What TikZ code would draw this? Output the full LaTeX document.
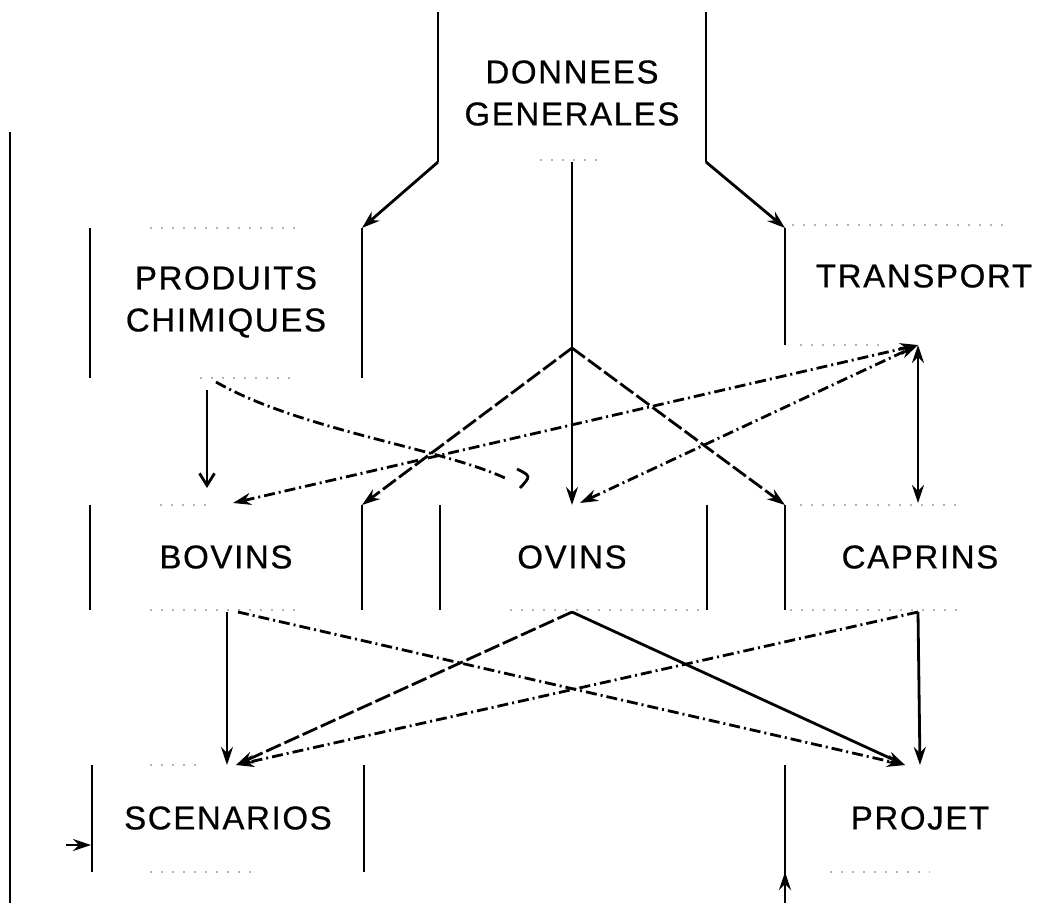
\documentclass[tikz,border=0pt]{standalone}
\usepackage{fontspec}
\setmainfont[LetterSpace=5,FakeBold=0.6]{Liberation Sans}
\usetikzlibrary{arrows.meta}
\begin{document}
\begin{tikzpicture}[x=1pt,y=-1pt,
  side/.style={line width=2.8pt},
  faint/.style={black!30,line width=1.4pt,dash pattern=on 2pt off 9pt},
  conn/.style={line width=2.8pt,-{Stealth[length=18pt,width=12pt]}},
  biconn/.style={line width=2.8pt,{Stealth[length=18pt,width=12pt]}-{Stealth[length=18pt,width=12pt]}},
  dashdot/.style={dash pattern=on 11pt off 4pt on 2pt off 4pt},
  longdash/.style={dash pattern=on 16pt off 4pt},
  lbl/.style={font=\fontsize{33}{42}\selectfont, align=center, inner sep=0pt}]
\useasboundingbox (0,0) rectangle (1049,903);

% ---------- labels ----------
\node[lbl] (dg) at (572,93) {DONNEES\\GENERALES};
\node[lbl] (pc) at (226,302) {PRODUITS\\CHIMIQUES};
\node[lbl] (tr) at (924,276) {TRANSPORT};
\node[lbl] (bo) at (226,557) {BOVINS};
\node[lbl] (ov) at (572,557) {OVINS};
\node[lbl] (ca) at (920,557) {CAPRINS};
\node[lbl] (sc) at (228,818) {SCENARIOS};
\node[lbl] (pr) at (920,818) {PROJET};

% ---------- box corners ----------
\coordinate (dgtl) at (438,12);  \coordinate (dgbl) at (438,162);
\coordinate (dgtr) at (706,12);  \coordinate (dgbr) at (706,162);
\coordinate (dgb)  at (572,162);
\coordinate (pctl) at (90,228);  \coordinate (pcbl) at (90,378);
\coordinate (pctr) at (362,228); \coordinate (pcbr) at (362,378);
\coordinate (trtl) at (785,228); \coordinate (trbl) at (785,345);
\coordinate (botl) at (90,505);  \coordinate (bobl) at (90,610);
\coordinate (botr) at (362,505); \coordinate (bobr) at (362,610);
\coordinate (ovtl) at (440,505); \coordinate (ovbl) at (440,610);
\coordinate (ovtr) at (707,505); \coordinate (ovbr) at (707,610);
\coordinate (catl) at (785,505); \coordinate (cabl) at (785,610);
\coordinate (sctl) at (92,765);  \coordinate (scbl) at (92,872);
\coordinate (sctr) at (364,765); \coordinate (scbr) at (364,872);
\coordinate (prtl) at (785,765); \coordinate (prbl) at (785,903);

% ---------- box sides ----------
\draw[side] (dgtl) -- (dgbl);
\draw[side] (dgtr) -- (dgbr);
\draw[side] (pctl) -- (pcbl);
\draw[side] (pctr) -- (pcbr);
\draw[side] (trtl) -- (trbl);
\draw[side] (botl) -- (bobl);
\draw[side] (botr) -- (bobr);
\draw[side] (ovtl) -- (ovbl);
\draw[side] (ovtr) -- (ovbr);
\draw[side] (catl) -- (cabl);
\draw[side] (sctl) -- (scbl);
\draw[side] (sctr) -- (scbr);
\draw[side] (prtl) -- (prbl);

% faint top / bottom edges
\draw[faint] (150,228) -- (300,228);
\draw[faint] (792,225) -- (1010,225);
\draw[faint] (200,378) -- (290,378);
\draw[faint] (540,160) -- (600,160);
\draw[faint] (800,345) -- (880,345);
\draw[faint] (160,505) -- (210,505);
\draw[faint] (800,505) -- (960,505);
\draw[faint] (150,610) -- (300,610);
\draw[faint] (510,610) -- (700,610);
\draw[faint] (790,610) -- (960,610);
\draw[faint] (150,765) -- (200,765);
\draw[faint] (150,872) -- (260,872);
\draw[faint] (830,872) -- (930,872);

% ---------- connectors ----------
% from DONNEES GENERALES
\draw[conn] (dgbl) -- (pctr);
\draw[conn] (dgbr) -- (trtl);
\coordinate (fan) at (572,348);
\coordinate (ovt) at (572,505);
\draw[conn] (dgb) -- (ovt);
\draw[conn,longdash] (fan) -- (botr);
\draw[conn,longdash] (fan) -- (catl);

% TRANSPORT links
\coordinate (trb) at (918,345);
\coordinate (bot) at (233,503);
\coordinate (ovt2) at (580,503);
\coordinate (cat) at (918,503);
\draw[biconn,dashdot] (bot) -- (trb);
\draw[biconn,dashdot] (ovt2) -- (trb);
\draw[biconn] (cat) -- (trb);

% PRODUITS CHIMIQUES links
\coordinate (pcb1) at (207,390);
\coordinate (bov) at (207,488);
\draw[line width=2.8pt,-{Straight Barb[length=12pt,width=15pt]}] (pcb1) -- (bov);
\coordinate (pcb2) at (216,382);
\coordinate (curveend) at (505,478);
\draw[line width=2.8pt,dashdot] (pcb2) .. controls (300,430) and (440,448) .. (curveend);
\draw[line width=2.8pt] (517,469) .. controls (531,476) .. (520,488);

% to SCENARIOS / PROJET
\coordinate (bob) at (227,612);  \coordinate (bob2) at (238,612);
\coordinate (ovb) at (572,612);
\coordinate (cab) at (918,612);
\coordinate (sct) at (227,765);  \coordinate (sct2) at (236,765);
\coordinate (prt) at (905,765);  \coordinate (prt2) at (920,765);
\draw[conn] (bob) -- (sct);
\draw[conn,dashdot] (bob2) -- (prt);
\draw[conn,longdash] (ovb) -- (sct2);
\draw[conn] (ovb) -- (prt);
\draw[conn,dashdot] (cab) -- (sct2);
\draw[conn] (cab) -- (prt2);

% feedback lines (cropped)
\coordinate (lt) at (10,132); \coordinate (lb) at (10,903);
\draw[side] (lt) -- (lb);
\coordinate (fin) at (66,845); \coordinate (scl) at (91,845);
\draw[conn] (fin) -- (scl);
\coordinate (prin) at (785,903); \coordinate (prup) at (785,872);
\draw[conn] (prin) -- (prup);
\end{tikzpicture}
\end{document}
